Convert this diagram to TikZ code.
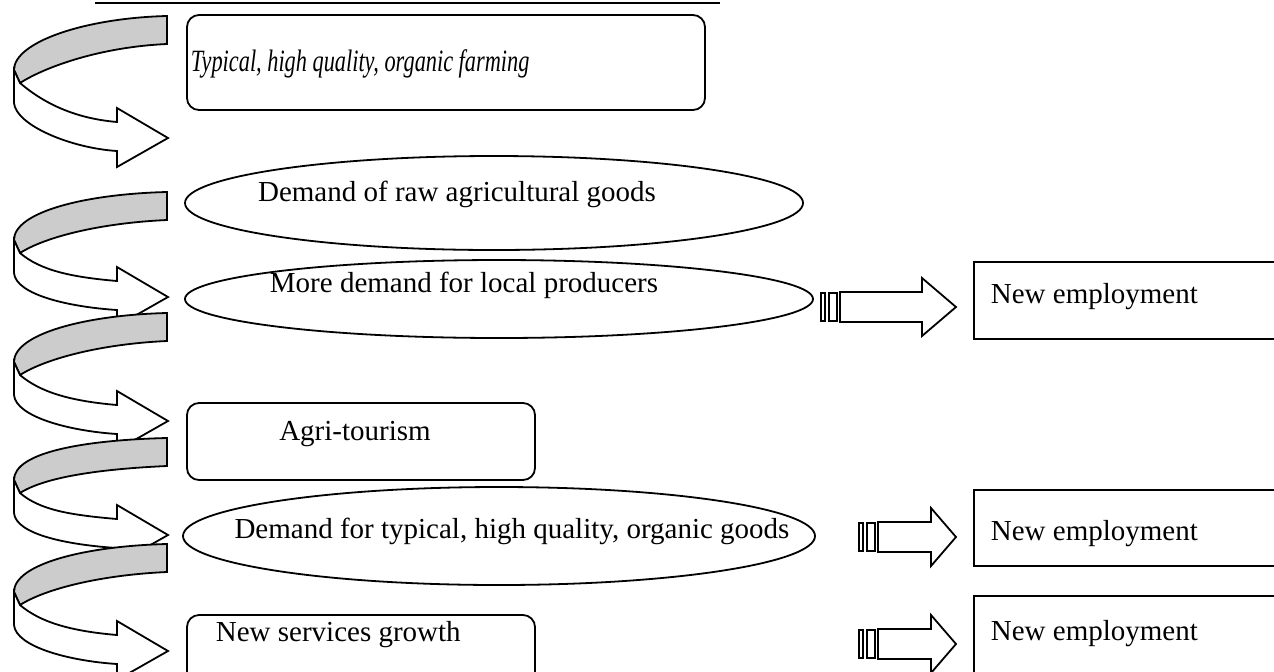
\documentclass[tikz,border=0pt]{standalone}
\usepackage{fontspec}
\setmainfont{Liberation Serif}

\tikzset{
  band/.style={fill=black!20,draw=black},
  roundbox/.style={draw=black,rounded corners=6pt},
  label/.style={font=\fontsize{14.5}{17}\selectfont,inner sep=0pt}
}

% twisted ribbon arrow: top of grey band, leftmost point, arrow tip
\newcommand{\twist}[3]{%
  \filldraw[band] (167,#1) .. controls (85,#1+2) and (14,#2-28) .. (14,#2)
     -- (20,#2+13) .. controls (45,#2-3) and (100,#1+31) .. (167,#1+28) -- cycle;
  \filldraw[fill=white] (14,#2) -- (14,#2+33)
     .. controls (16,#2+55) and (70,#3+10) .. (117,#3+13)
     -- (117,#3+29) -- (168,#3) -- (117,#3-30) -- (117,#3-16)
     .. controls (70,#3-20) and (40,#2+30) .. (20,#2+13) -- cycle;
}
% striped block arrow: start x, centre y, head x
\newcommand{\outflow}[3]{%
  \draw (#1,#2-14) rectangle (#1+4,#2+14);
  \draw (#1+8,#2-14) rectangle (#1+16,#2+14);
  \draw[fill=white] (#1+19,#2-15) -- (#3,#2-15) -- (#3,#2-29) -- (956,#2)
     -- (#3,#2+29) -- (#3,#2+15) -- (#1+19,#2+15) -- cycle;
}

\begin{document}
\begin{tikzpicture}[x=0.5pt,y=-0.5pt,line width=0.9pt]
  \useasboundingbox (0,0) rectangle (1274,671);
  \clip (0,0) rectangle (1274,671);

  \draw[line width=1.3pt] (95,3) -- (720,3);

  % ribbons down the left side
  \twist{16}{70}{138}
  \twist{192}{240}{297}
  \twist{313}{362}{421}
  \twist{438}{480}{535}
  \twist{544}{592}{651}

  % chain of effects
  \draw[roundbox] (187,15) rectangle (705,110);
  \node[label,anchor=base west,font=\fontsize{15.5}{18}\selectfont] (farm) at (190,71) {\scalebox{0.72}[1]{\textit{Typical, high quality, organic farming}}};
  \draw (494,203) ellipse [x radius=309,y radius=47];
  \node[label,anchor=base] (raw) at (457,201) {Demand of raw agricultural goods};
  \draw (499,299) ellipse [x radius=314,y radius=39];
  \node[label,anchor=base] (local) at (464,292) {More demand for local producers};
  \draw[roundbox] (187,403) rectangle (535,480);
  \node[label,anchor=base] (agri) at (355,440) {Agri-tourism};
  \draw (499,536) ellipse [x radius=316,y radius=49];
  \node[label,anchor=base] (goods) at (512,538) {Demand for typical, high quality, organic goods};
  \draw[roundbox] (187,615) rectangle (535,720);
  \node[label,anchor=base west] (serv) at (215,641) {New services growth};

  % employment side
  \outflow{821}{307}{922}
  \outflow{859}{537}{931}
  \outflow{859}{644}{931}
  \draw (974,262) rectangle (1290,339);
  \node[label,anchor=base west] (emp1) at (990,303) {New employment};
  \draw (974,490) rectangle (1290,566);
  \node[label,anchor=base west] (emp2) at (990,540) {New employment};
  \draw (974,596) rectangle (1290,720);
  \node[label,anchor=base west] (emp3) at (990,640) {New employment};
\end{tikzpicture}
\end{document}
